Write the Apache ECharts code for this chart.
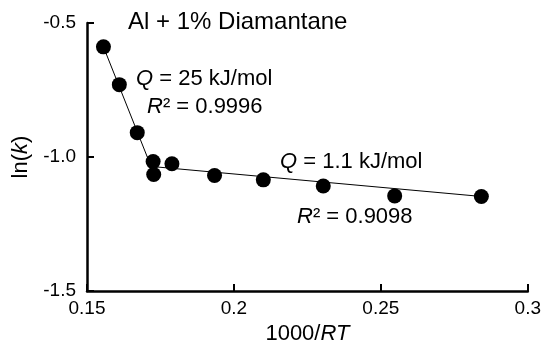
<!DOCTYPE html>
<html>
<head>
<meta charset="utf-8">
<title>Al + 1% Diamantane</title>
<script src="https://cdn.jsdelivr.net/npm/echarts@6/dist/echarts.min.js"></script>
<style>
	html,body{margin:0;padding:0;background:#fff;}
	#main{width:544px;height:350px;}
</style>
</head>
<body>
<div id="main"></div>
<script>
// 测量点 1000/RT 与 ln(k)
var xVals = [0.1556, 0.1610, 0.1671, 0.1725, 0.1727, 0.1789, 0.1934, 0.2100, 0.2304, 0.2547, 0.2842];
var yVals = [-0.589, -0.730, -0.909, -1.017, -1.065, -1.025, -1.069, -1.085, -1.108, -1.145, -1.147];
// 两段拟合直线的端点
var fitHighX = [0.1556, 0.1718];
var fitHighY = [-0.589, -1.035];
var fitLowX = [0.1718, 0.2842];
var fitLowY = [-1.035, -1.147];
var xTicks = [0.15, 0.3, 0.05];
var yTicks = [-1.5, -0.5, 0.5];

var font = '"Liberation Sans", Arial, sans-serif';

function pairs(a, b) {
	var out = [];
	for (var i = 0; i < a.length; i++) out.push([a[i], b[i]]);
	return out;
}

var myChart = echarts.init(document.getElementById('main'));
var option = {
	animation: false,
	backgroundColor: '#fff',
	grid: {left: 87, right: 14, top: 23, bottom: 57},
	xAxis: {
		type: 'value',
		min: xTicks[0], max: xTicks[1], interval: xTicks[2],
		name: '{n|1000/}{i|RT}',
		nameLocation: 'middle',
		nameGap: 22,
		nameTextStyle: {
			rich: {
				n: {fontFamily: font, fontSize: 22, color: '#000'},
				i: {fontFamily: font, fontSize: 22, color: '#000', fontStyle: 'italic'}
			}
		},
		axisLine: {show: true, onZero: false, lineStyle: {color: '#000', width: 2.5}},
		axisTick: {show: true, inside: true, length: 7, lineStyle: {color: '#000', width: 2}},
		axisLabel: {color: '#000', fontFamily: font, fontSize: 19, margin: 8},
		splitLine: {show: false}
	},
	yAxis: {
		type: 'value',
		min: yTicks[0], max: yTicks[1], interval: yTicks[2],
		name: '{n|ln(}{i|k}{n|)}',
		nameLocation: 'middle',
		nameGap: 52,
		nameTextStyle: {
			rich: {
				n: {fontFamily: font, fontSize: 22, color: '#000'},
				i: {fontFamily: font, fontSize: 22, color: '#000', fontStyle: 'italic'}
			}
		},
		axisLine: {show: true, onZero: false, lineStyle: {color: '#000', width: 2.5}},
		axisTick: {show: true, inside: true, length: 7, lineStyle: {color: '#000', width: 2}},
		axisLabel: {
			color: '#000', fontFamily: font, fontSize: 19, margin: 11,
			formatter: function (v) { return v.toFixed(1); }
		},
		splitLine: {show: false}
	},
	graphic: [
		{type: 'text', left: 128, top: 10, style: {text: 'Al + 1% Diamantane', font: '24px ' + font, fill: '#000'}},
		{type: 'text', left: 136, top: 68, style: {
			text: '{i|Q} = 25 kJ/mol', fill: '#000', font: '22px ' + font,
			rich: {i: {fontStyle: 'italic', fontSize: 22, fontFamily: font}}
		}},
		{type: 'text', left: 147, top: 96, style: {
			text: '{i|R}² = 0.9996', fill: '#000', font: '22px ' + font,
			rich: {i: {fontStyle: 'italic', fontSize: 22, fontFamily: font}}
		}},
		{type: 'text', left: 280, top: 151, style: {
			text: '{i|Q} = 1.1 kJ/mol', fill: '#000', font: '22px ' + font,
			rich: {i: {fontStyle: 'italic', fontSize: 22, fontFamily: font}}
		}},
		{type: 'text', left: 297, top: 206, style: {
			text: '{i|R}² = 0.9098', fill: '#000', font: '22px ' + font,
			rich: {i: {fontStyle: 'italic', fontSize: 22, fontFamily: font}}
		}}
	],
	series: [
		{
			type: 'line', data: pairs(fitHighX, fitHighY), showSymbol: false, symbol: 'none',
			lineStyle: {color: '#000', width: 1}, z: 1
		},
		{
			type: 'line', data: pairs(fitLowX, fitLowY), showSymbol: false, symbol: 'none',
			lineStyle: {color: '#000', width: 1}, z: 1
		},
		{
			type: 'scatter', data: pairs(xVals, yVals), symbolSize: 15,
			itemStyle: {color: '#000', opacity: 1}, z: 3
		}
	]
};
myChart.setOption(option);
</script>
</body>
</html>
